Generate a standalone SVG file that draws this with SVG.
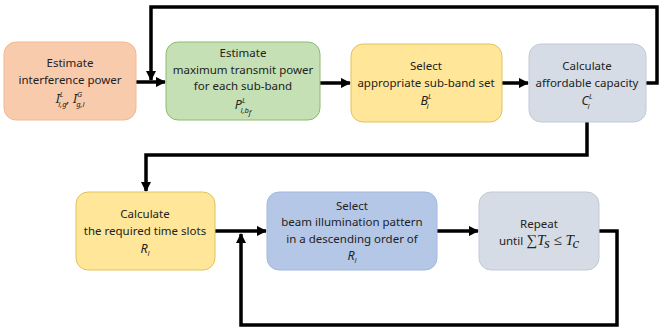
<svg xmlns="http://www.w3.org/2000/svg" width="659" height="335" viewBox="0 0 659 335">
<defs>
<marker id="ah" viewBox="0 0 10 10" refX="9" refY="5" markerWidth="3" markerHeight="3" orient="auto" markerUnits="strokeWidth">
<path d="M0,0 L10,5 L0,10 z" fill="#000"/>
</marker>
<style>
text{font-family:"Noto Sans","Open Sans","DejaVu Sans",sans-serif;font-size:11.5px;fill:#222;text-anchor:middle}
.m{font-style:italic;font-size:12.5px}
.s{font-size:7.5px;font-style:italic}
.ms{font-family:"Liberation Serif","DejaVu Serif",serif;font-style:italic;font-size:15px}
.c{fill:none;stroke:#000;stroke-width:3.5;stroke-linejoin:miter}
.a{marker-end:url(#ah)}
</style>
</defs>
<rect width="659" height="335" fill="#fff"/>
<g id="connectors">
<path class="c a" d="M136,82 H165"/>
<path class="c a" d="M320,83 H350"/>
<path class="c a" d="M502,83 H528"/>
<path class="c a" d="M646,83 H657 V7 H151 V80"/>
<path class="c a" d="M587,122 V155 H146 V191"/>
<path class="c a" d="M215,231 H266"/>
<path class="c a" d="M437,231 H478"/>
<path class="c a" d="M599,231 H617 V325 H241 V234"/>
</g>
<g id="n1">
<rect x="4" y="42" width="132" height="78" rx="12" fill="#F8CBAD" stroke="#F4B896" stroke-width="1"/>
<text x="70" y="67">Estimate</text>
<text x="70" y="84">interference power</text>
<text x="70" y="103" class="m">I<tspan class="s" dy="-6">L</tspan><tspan class="s" dx="-5" dy="10">l,g</tspan><tspan dy="-4">,  I</tspan><tspan class="s" dy="-6">G</tspan><tspan class="s" dx="-6" dy="10">g,l</tspan></text>
</g>
<g id="n2">
<rect x="166" y="42" width="154" height="78" rx="12" fill="#C5E0B4" stroke="#8DBA72" stroke-width="1"/>
<text x="243" y="57">Estimate</text>
<text x="243" y="74">maximum transmit power</text>
<text x="243" y="90">for each sub-band</text>
<text x="243" y="109" class="m">P<tspan class="s" dy="-6">L</tspan><tspan class="s" dx="-5" dy="10">l,b</tspan><tspan class="s" font-size="6" dy="2">f</tspan></text>
</g>
<g id="n3">
<rect x="351" y="44" width="151" height="78" rx="12" fill="#FFE699" stroke="#E2C25A" stroke-width="1"/>
<text x="426" y="70">Select</text>
<text x="426" y="87">appropriate sub-band set</text>
<text x="426" y="105" class="m">B<tspan class="s" dy="-6">L</tspan><tspan class="s" dx="-5" dy="10">l</tspan></text>
</g>
<g id="n4">
<rect x="529" y="44" width="117" height="78" rx="12" fill="#D6DCE5" stroke="#C3CAD6" stroke-width="1"/>
<text x="587" y="70">Calculate</text>
<text x="587" y="87">affordable capacity</text>
<text x="587" y="105" class="m">C<tspan class="s" dy="-6">L</tspan><tspan class="s" dx="-5" dy="10">l</tspan></text>
</g>
<g id="n5">
<rect x="76" y="192" width="139" height="78" rx="12" fill="#FFE699" stroke="#E2C25A" stroke-width="1"/>
<text x="145" y="218">Calculate</text>
<text x="145" y="235">the required time slots</text>
<text x="145" y="253" class="m">R<tspan class="s" dy="3">l</tspan></text>
</g>
<g id="n6">
<rect x="267" y="192" width="170" height="78" rx="12" fill="#B4C7E7" stroke="#A3B8DD" stroke-width="1"/>
<text x="352" y="210">Select</text>
<text x="352" y="226">beam illumination pattern</text>
<text x="352" y="243">in a descending order of</text>
<text x="352" y="260" class="m">R<tspan class="s" dy="3">l</tspan></text>
</g>
<g id="n7">
<rect x="479" y="192" width="120" height="78" rx="12" fill="#D6DCE5" stroke="#C3CAD6" stroke-width="1"/>
<text x="539" y="228">Repeat</text>
<text x="539" y="245">until <tspan class="ms" font-style="normal">∑</tspan><tspan class="ms">T</tspan><tspan class="ms" font-size="9" dy="3">s</tspan><tspan class="ms" font-style="normal" dy="-3"> ≤ </tspan><tspan class="ms">T</tspan><tspan class="ms" font-size="9" dy="3">c</tspan></text>
</g>
</svg>
